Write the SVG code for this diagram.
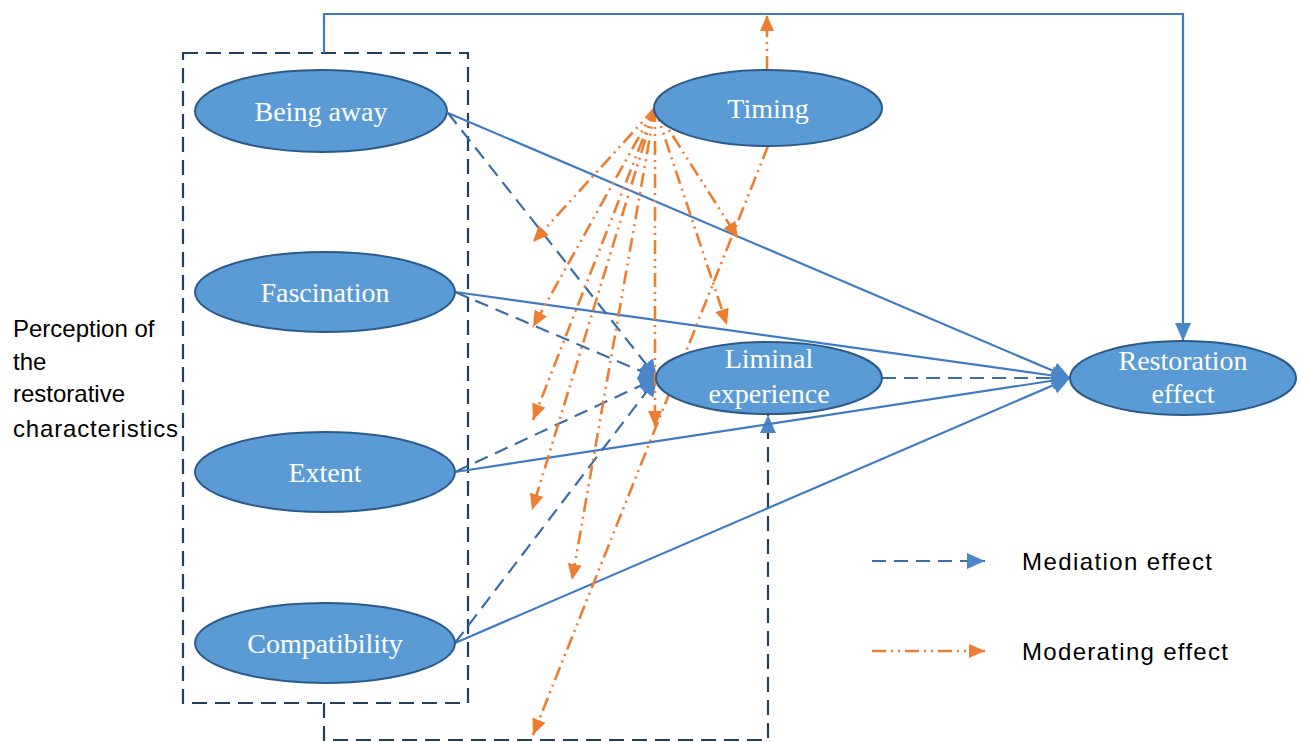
<svg xmlns="http://www.w3.org/2000/svg" width="1299" height="742" viewBox="0 0 1299 742">
<style>
.node ellipse{fill:#5b9bd5;stroke:#2c5a8a;stroke-width:2}
.node text{fill:#fff;font-family:"Liberation Serif",serif;font-size:28px;text-anchor:middle}
.direct{stroke:#3f7bc4;stroke-width:2.2;fill:none}
.med{stroke:#3b6ea5;stroke-width:2.2;fill:none;stroke-dasharray:14 8}
.mod{stroke:#ed7d31;stroke-width:2.6;fill:none;stroke-dasharray:14 5 2 5 2 5}
.box{stroke:#22405e;stroke-width:2.2;fill:none;stroke-dasharray:15 8}
.lbl{font-family:"Liberation Sans",sans-serif;font-size:24px;fill:#000}
</style>
<defs>
<marker id="ab" markerUnits="userSpaceOnUse" markerWidth="20" markerHeight="18" refX="18" refY="8" orient="auto"><path d="M0,0 L18,8 L0,16 Z" fill="#4a86c8"/></marker>
<marker id="abm" markerUnits="userSpaceOnUse" markerWidth="20" markerHeight="20" refX="18" refY="9" orient="auto"><path d="M0,0 L18,9 L0,18 Z" fill="#4a86c8"/></marker>
<marker id="ao" markerUnits="userSpaceOnUse" markerWidth="18" markerHeight="16" refX="16" refY="7" orient="auto"><path d="M0,0 L16,7 L0,14 Z" fill="#ed7d31"/></marker>
</defs>
<rect width="1299" height="742" fill="#fff"/>

<g id="connectors">
  <rect class="box" x="183" y="53" width="285" height="650"/>
  <polyline class="direct" points="324,53 324,14 1183,14 1183,341" marker-end="url(#ab)"/>
  <polyline class="box" points="324,703 324,740 768,740 768,415" marker-end="url(#ab)"/>
  <line class="direct" x1="448" y1="113" x2="1070" y2="378" marker-end="url(#abm)"/>
  <line class="direct" x1="455" y1="292" x2="1070" y2="378" marker-end="url(#abm)"/>
  <line class="direct" x1="455" y1="472" x2="1070" y2="378" marker-end="url(#abm)"/>
  <line class="direct" x1="455" y1="643" x2="1070" y2="378" marker-end="url(#abm)"/>
  <line class="med" x1="882" y1="378" x2="1070" y2="378" marker-end="url(#abm)"/>
  <line class="med" x1="448" y1="113" x2="657" y2="378" marker-end="url(#abm)"/>
  <line class="med" x1="455" y1="292" x2="657" y2="378" marker-end="url(#abm)"/>
  <line class="med" x1="455" y1="472" x2="657" y2="378" marker-end="url(#abm)"/>
  <line class="med" x1="455" y1="643" x2="657" y2="378" marker-end="url(#abm)"/>
  <line class="mod" x1="655" y1="108" x2="533" y2="242" marker-end="url(#ao)"/>
  <line class="mod" x1="655" y1="108" x2="533" y2="327" marker-end="url(#ao)"/>
  <line class="mod" x1="655" y1="108" x2="533" y2="420" marker-end="url(#ao)"/>
  <line class="mod" x1="655" y1="108" x2="532" y2="510" marker-end="url(#ao)"/>
  <line class="mod" x1="655" y1="108" x2="572" y2="580" marker-end="url(#ao)"/>
  <line class="mod" x1="655" y1="108" x2="655" y2="427" marker-end="url(#ao)"/>
  <line class="mod" x1="655" y1="108" x2="727" y2="325" marker-end="url(#ao)"/>
  <line class="mod" x1="655" y1="108" x2="738" y2="238" marker-end="url(#ao)"/>
  <line class="mod" x1="768" y1="146" x2="533" y2="735" marker-end="url(#ao)"/>
  <line class="mod" x1="767" y1="70" x2="767" y2="15" marker-end="url(#ao)"/>
</g>

<g id="being-away" class="node"><ellipse cx="321" cy="111" rx="126" ry="41"/><text x="321" y="121">Being away</text></g>
<g id="fascination" class="node"><ellipse cx="325" cy="292" rx="130" ry="40"/><text x="325" y="302">Fascination</text></g>
<g id="extent" class="node"><ellipse cx="325" cy="472" rx="130" ry="40"/><text x="325" y="482">Extent</text></g>
<g id="compatibility" class="node"><ellipse cx="325" cy="643" rx="130" ry="40"/><text x="325" y="653">Compatibility</text></g>
<g id="timing" class="node"><ellipse cx="768" cy="108" rx="114" ry="38"/><text x="768" y="118">Timing</text></g>
<g id="liminal" class="node"><ellipse cx="769" cy="378" rx="113" ry="36"/><text x="769" y="368">Liminal</text><text x="769" y="403">experience</text></g>
<g id="restoration" class="node"><ellipse cx="1183" cy="378" rx="113" ry="37"/><text x="1183" y="370">Restoration</text><text x="1183" y="403">effect</text></g>

<g id="group-label">
  <text class="lbl" x="13" y="337">Perception of</text>
  <text class="lbl" x="13" y="370">the</text>
  <text class="lbl" x="13" y="402">restorative</text>
  <text class="lbl" x="13" y="437" textLength="165">characteristics</text>
</g>

<g id="legend">
  <line class="med" x1="872" y1="561" x2="985" y2="561" marker-end="url(#ab)"/>
  <text class="lbl" x="1022" y="570" font-size="25" textLength="190">Mediation effect</text>
  <line class="mod" x1="872" y1="651" x2="985" y2="651" marker-end="url(#ao)"/>
  <text class="lbl" x="1022" y="660" font-size="25" textLength="206">Moderating effect</text>
</g>
</svg>
